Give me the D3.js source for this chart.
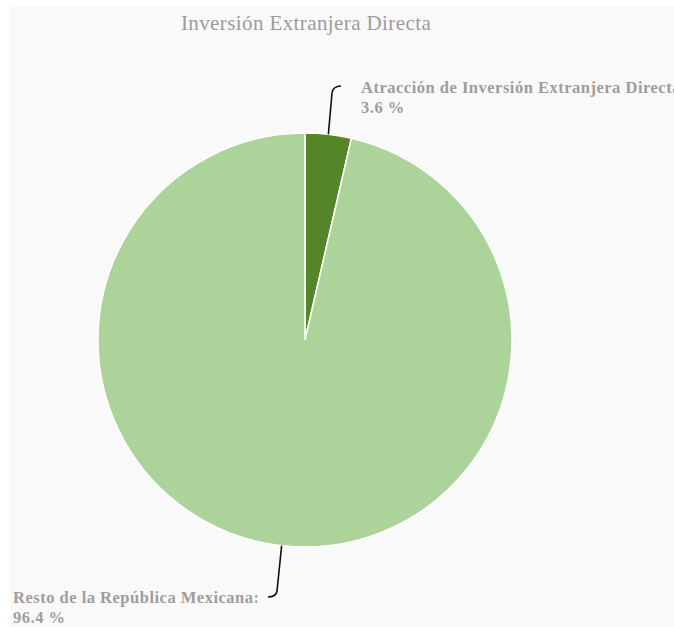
<!DOCTYPE html>
<html><head><meta charset="utf-8">
<script src="https://cdn.jsdelivr.net/npm/d3@7"></script>
<style>html,body{margin:0;padding:0;background:#fff;}svg{display:block;}
text{font-family:"Liberation Serif","Times New Roman",Times,serif;}</style>
</head><body>
<svg id="c" width="674" height="627"></svg>
<script>
const title = "Inversión Extranjera Directa";
const categories = ["Atracción de Inversión Extranjera Directa", "Resto de la República Mexicana:"];
const values = [3.6, 96.4];
const colors = ["#548629", "#acd39a"];

const svg = d3.select("#c");
svg.append("rect").attr("x", 10).attr("y", 6).attr("width", 664).attr("height", 621).attr("fill", "#f9f9f9");

svg.append("text").attr("x", 306).attr("y", 30).attr("text-anchor", "middle")
  .attr("font-size", 21).attr("letter-spacing", 0.4).attr("fill", "#9c9c9c").text(title);

const cx = 305, cy = 340, R = 207;
const data = categories.map((c, i) => ({name: c, value: values[i], color: colors[i]}));
const pie = d3.pie().value(d => d.value).sort(null);
const arcs = pie(data);
const arc = d3.arc().innerRadius(0).outerRadius(R);
const g = svg.append("g").attr("transform", `translate(${cx},${cy})`);
g.selectAll("path.s").data(arcs).join("path").attr("class", "s")
  .attr("d", arc).attr("fill", d => d.data.color).attr("stroke", "#fff").attr("stroke-width", 1.5);

const labelPos = [
  {x: 361, y: 93, lx: 341, ly: 86, dir: 1},
  {x: 13, y: 603, lx: 268, ly: 597, dir: -1}
];
arcs.forEach((a, i) => {
  const m = (a.startAngle + a.endAngle) / 2;
  const sx = cx + R * Math.sin(m), sy = cy - R * Math.cos(m);
  const p = labelPos[i];
  const path = d3.path();
  path.moveTo(sx, sy);
  const kx = p.lx - p.dir * 9;
  const ky = p.ly + (i === 0 ? 7 : -6);
  path.lineTo(kx, ky);
  path.quadraticCurveTo(p.lx - p.dir * 8, p.ly, p.lx, p.ly);
  svg.append("path").attr("d", path.toString()).attr("fill", "none").attr("stroke", "#111").attr("stroke-width", 1.6);
  const t = svg.append("text").attr("x", p.x).attr("y", p.y)
    .attr("font-weight", "bold").attr("font-size", 16.5).attr("letter-spacing", 0.5).attr("fill", "#a19c9c");
  t.append("tspan").attr("x", p.x).attr("dy", 0).text(a.data.name);
  t.append("tspan").attr("x", p.x).attr("dy", 20).text(d3.format(".1f")(a.data.value) + " %");
});
</script>
</body></html>
